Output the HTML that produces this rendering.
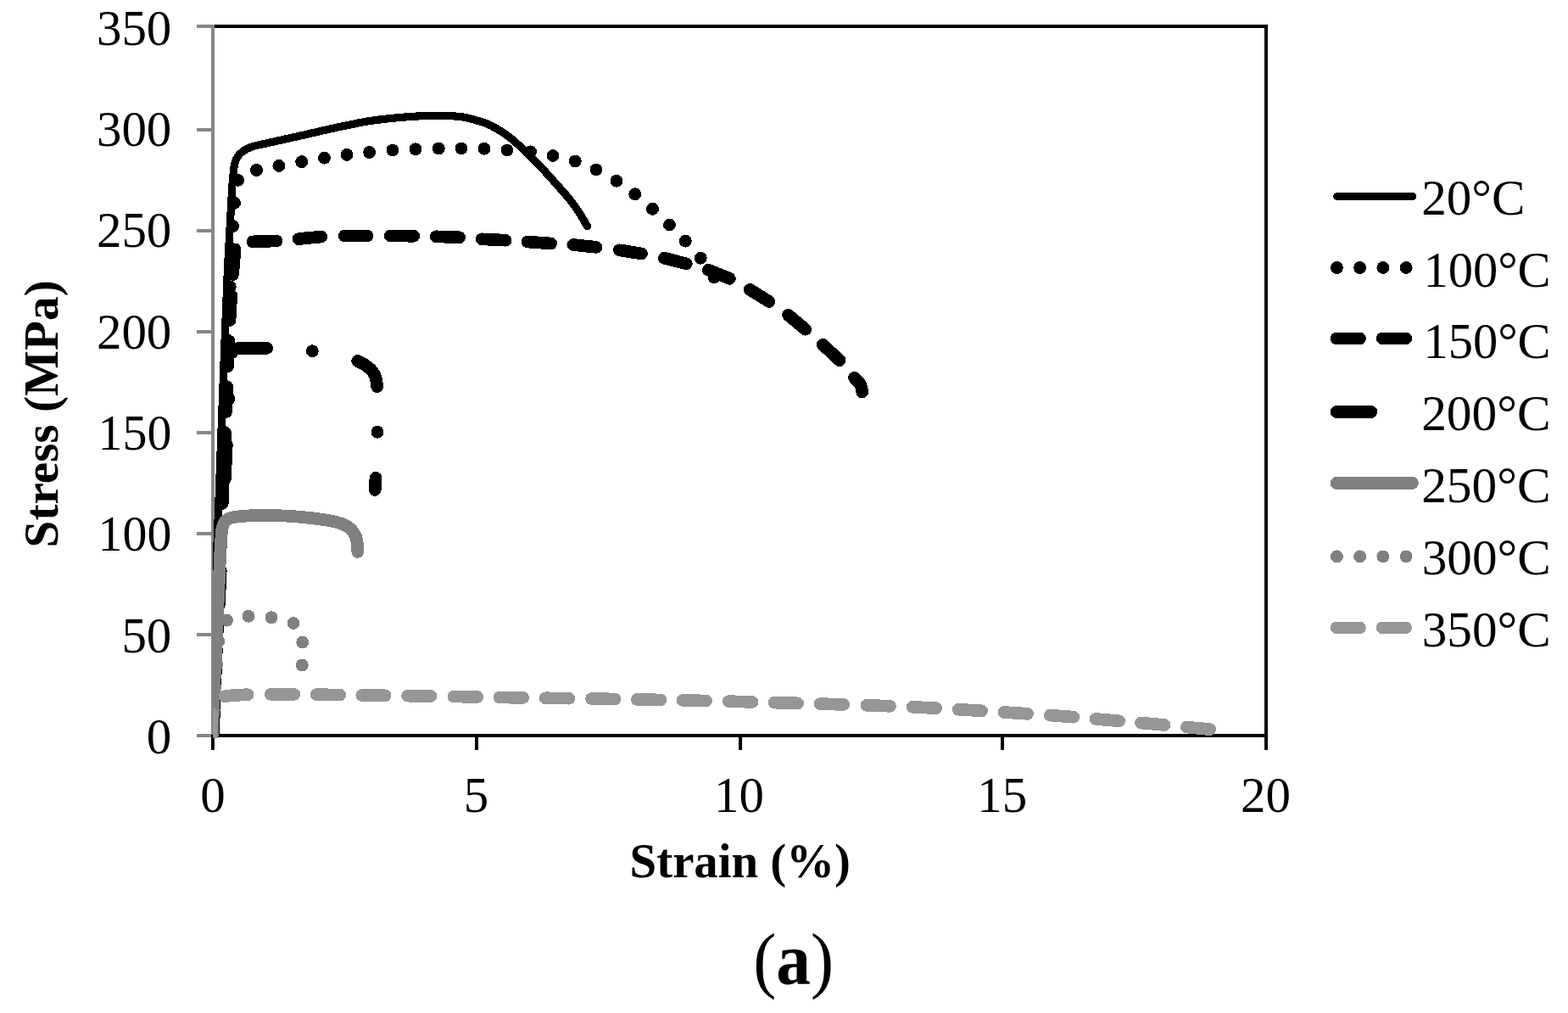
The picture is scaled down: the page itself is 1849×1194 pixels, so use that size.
<!DOCTYPE html>
<html lang="en"><head><meta charset="utf-8"><title>Stress-strain curves (a)</title>
<style>
html,body{margin:0;padding:0;background:#fff;}
body{width:1849px;height:1194px;overflow:hidden;}
svg{display:block;}
text{font-family:"Liberation Serif","DejaVu Serif",serif;font-size:60px;fill:#000;}
.b{font-weight:bold;}
.k{stroke:#000;} .g1{stroke:#808080;} .g2{stroke:#969696;}
.s{fill:none;stroke-linecap:round;stroke-linejoin:round;}
</style></head><body>
<svg width="1849" height="1194" viewBox="0 0 1849 1194">
<rect width="1849" height="1194" fill="#fff"/>
<g id="axes" shape-rendering="crispEdges">
<rect x="249" y="29" width="4" height="840" fill="#868686"/>
<rect x="232" y="29" width="19" height="4" fill="#868686"/>
<rect x="232" y="151" width="19" height="4" fill="#868686"/>
<rect x="232" y="270" width="19" height="4" fill="#868686"/>
<rect x="232" y="389" width="19" height="4" fill="#868686"/>
<rect x="232" y="508" width="19" height="4" fill="#868686"/>
<rect x="232" y="627" width="19" height="4" fill="#868686"/>
<rect x="232" y="746" width="19" height="4" fill="#868686"/>
<rect x="232" y="865" width="19" height="4" fill="#868686"/>
<rect x="253" y="29" width="1242" height="4" fill="#000"/>
<rect x="1491" y="29" width="4" height="855" fill="#000"/>
<rect x="251" y="865" width="1244" height="4" fill="#000"/>
<rect x="249" y="866" width="4" height="18" fill="#000"/>
<rect x="560" y="866" width="4" height="18" fill="#000"/>
<rect x="871" y="866" width="4" height="18" fill="#000"/>
<rect x="1180" y="866" width="4" height="18" fill="#000"/>
</g>
<defs><clipPath id="pa"><rect x="251" y="0" width="1400" height="869.6"/></clipPath></defs>
<g id="series" clip-path="url(#pa)" shape-rendering="crispEdges">
<path class="s k" stroke-width="9.2" d="M247.5 867C249.25 820.67 255.35 659.5 258 589C260.65 518.5 261.77 486.83 263.4 444C265.03 401.17 266.53 361 267.8 332C269.07 303 270.05 287.83 271 270C271.95 252.17 272.78 236.17 273.5 225C274.22 213.83 274.7 208.57 275.3 203C275.9 197.43 276.22 194.75 277.1 191.6C277.98 188.45 279.03 186.32 280.6 184.1C282.17 181.88 284.35 179.92 286.5 178.3C288.65 176.68 290.98 175.5 293.5 174.4C296.02 173.3 296.68 172.93 301.6 171.7C306.52 170.47 315.78 168.6 323 167C330.22 165.4 337.65 163.73 344.9 162.1C352.15 160.47 359.28 158.85 366.5 157.2C373.72 155.55 380.95 153.8 388.2 152.2C395.45 150.6 402.8 149.08 410 147.6C417.2 146.12 424.18 144.52 431.4 143.3C438.62 142.08 445.2 141.22 453.3 140.3C461.4 139.38 472.22 138.42 480 137.8C487.78 137.18 493.33 136.87 500 136.6C506.67 136.33 512.5 135.98 520 136.2C527.5 136.42 537.52 136.82 545 137.9C552.48 138.98 559.78 141.27 564.9 142.7C570.02 144.13 572.1 144.92 575.7 146.5C579.3 148.08 582.88 150.08 586.5 152.2C590.12 154.32 593.78 156.58 597.4 159.2C601.02 161.82 602.8 163.03 608.2 167.9C613.6 172.77 622.6 181.1 629.8 188.4C637 195.7 644.2 203.67 651.4 211.7C658.6 219.73 667.65 229.97 673 236.6C678.35 243.23 680.25 246.48 683.5 251.5C686.75 256.52 691 264.17 692.5 266.7"/>
<g fill="#000"><circle cx="274.6" cy="266.5" r="7.45"/><circle cx="276.5" cy="239.3" r="7.45"/><circle cx="280.5" cy="212.4" r="7.45"/><circle cx="271.3" cy="338" r="7.45"/><circle cx="302.5" cy="200.5" r="7.45"/><circle cx="328.9" cy="195.4" r="7.45"/><circle cx="355.7" cy="190.6" r="7.45"/><circle cx="382.5" cy="186.2" r="7.45"/><circle cx="409" cy="182.4" r="7.45"/><circle cx="435.6" cy="179.5" r="7.45"/><circle cx="463" cy="177" r="7.45"/><circle cx="490" cy="175.8" r="7.45"/><circle cx="517.2" cy="175" r="7.45"/><circle cx="544" cy="175" r="7.45"/><circle cx="571" cy="175.3" r="7.45"/><circle cx="598" cy="177" r="7.45"/><circle cx="625.5" cy="178.8" r="7.45"/><circle cx="652" cy="183.5" r="7.45"/><circle cx="678.3" cy="190" r="7.45"/><circle cx="703" cy="200" r="7.45"/><circle cx="727" cy="213.3" r="7.45"/><circle cx="748.8" cy="228.8" r="7.45"/><circle cx="769.5" cy="246.3" r="7.45"/><circle cx="789.5" cy="265" r="7.45"/><circle cx="808.3" cy="284.1" r="7.45"/><circle cx="826.2" cy="304.2" r="7.45"/><circle cx="842" cy="327" r="7.45"/><circle cx="273.54" cy="293.5" r="7.45"/><circle cx="272.46" cy="320.5" r="7.45"/><circle cx="271.38" cy="347.5" r="7.45"/><circle cx="270.3" cy="374.5" r="7.45"/><circle cx="269.22" cy="401.5" r="7.45"/><circle cx="268.14" cy="428.5" r="7.45"/><circle cx="267.06" cy="455.5" r="7.45"/><circle cx="265.98" cy="482.5" r="7.45"/><circle cx="264.9" cy="509.5" r="7.45"/><circle cx="263.82" cy="536.5" r="7.45"/><circle cx="262.74" cy="563.5" r="7.45"/><circle cx="261.66" cy="590.5" r="7.45"/><circle cx="260.58" cy="617.5" r="7.45"/><circle cx="259.5" cy="644.5" r="7.45"/><circle cx="258.42" cy="671.5" r="7.45"/><circle cx="257.34" cy="698.5" r="7.45"/><circle cx="256.26" cy="725.5" r="7.45"/><circle cx="255.18" cy="752.5" r="7.45"/><circle cx="254.1" cy="779.5" r="7.45"/><circle cx="253.02" cy="806.5" r="7.45"/><circle cx="251.94" cy="833.5" r="7.45"/><circle cx="250.86" cy="860.5" r="7.45"/></g>
<path class="s k" stroke-width="14.7" d="M298 284.9L326 283.9M352 281.6L378.8 279M406.2 278L433 278M460.3 278L487.7 278.2M514.2 278.8L541.6 279.8M568.2 281.8L596 283.2M622 285L649.7 287M675.8 288.5L703 291.3M730.3 294.8L756.6 299M783.3 304.2L809.2 310.8M835.3 318.3L860.3 328.3M884.2 341.3L906.9 355.4M929.5 371.3L949.7 388.2M970.3 406.3L990 424.7M1007.5 445.3C1008.67 446.58 1012.97 450.22 1014.5 453C1016.03 455.78 1016.33 460.5 1016.7 462M277.12 294L274.55 323.5M272.76 348L271.01 377.5M269.9 402L268.72 431.5M267.74 456L266.56 485.5M265.58 510L264.4 539.5M263.42 564L262.24 593.5M261.26 618L260.08 647.5M259.1 672L257.92 701.5M256.94 726L255.76 755.5M254.78 780L253.6 809.5M252.62 834L251.44 863.5"/>
<path class="s k" stroke-width="14.7" d="M273.2 416C273.58 415.43 274.37 413.47 275.5 412.6C276.63 411.73 277.58 411.2 280 410.8C282.42 410.4 284.23 410.27 290 410.2C295.77 410.13 310.5 410.37 314.6 410.4M421.7 425.5C423 426.18 427 428.02 429.5 429.6C432 431.18 434.78 433.18 436.7 435C438.62 436.82 439.9 438.55 441 440.5C442.1 442.45 442.68 444.2 443.3 446.7C443.92 449.2 444.47 454.03 444.7 455.5M443 563.3L442.2 577.5M267.29 524L265.37 564.5M260.24 672.5L258.31 713M253.19 821L251.26 861.5"/>
<g fill="#000"><circle cx="368.3" cy="413.8" r="7.45"/><circle cx="445" cy="509.2" r="7.45"/><circle cx="269.86" cy="470" r="7.45"/><circle cx="262.8" cy="618.5" r="7.45"/><circle cx="255.75" cy="767" r="7.45"/></g>
<path class="s g1" stroke-width="14.7" d="M250.1 869C250.92 850.67 253.45 793.83 255 759C256.55 724.17 258.4 681.17 259.4 660C260.4 638.83 260.57 638.17 261 632C261.43 625.83 261.55 625.42 262 623C262.45 620.58 262.87 619.17 263.7 617.5C264.53 615.83 265.62 614.17 267 613C268.38 611.83 270.12 611.13 272 610.5C273.88 609.87 274.47 609.65 278.3 609.2C282.13 608.75 288.05 608.08 295 607.8C301.95 607.52 310.28 607.27 320 607.5C329.72 607.73 342.18 608.23 353.3 609.2C364.42 610.17 378.37 611.92 386.7 613.3C395.03 614.68 398.87 615.83 403.3 617.5C407.73 619.17 410.65 620.93 413.3 623.3C415.95 625.67 417.88 628.92 419.2 631.7C420.52 634.48 420.78 636.87 421.2 640C421.62 643.13 421.62 648.75 421.7 650.5"/>
<g fill="#808080"><circle cx="267.5" cy="731.2" r="7.45"/><circle cx="293" cy="726.3" r="7.45"/><circle cx="320" cy="727.8" r="7.45"/><circle cx="346" cy="734.5" r="7.45"/><circle cx="356.7" cy="757" r="7.45"/><circle cx="356.2" cy="784" r="7.45"/><circle cx="257.8" cy="755.8" r="7.45"/><circle cx="255.8" cy="783" r="7.45"/><circle cx="253.8" cy="810" r="7.45"/><circle cx="252.3" cy="837" r="7.45"/><circle cx="251" cy="864" r="7.45"/></g>
<path class="s g2" stroke-width="14.7" d="M248.7 873L249.5 841.2M265.2 820.7C266.83 820.52 270.53 819.93 275 819.6C279.47 819.27 289.17 818.85 292 818.7M319.3 818.42L346.8 818.43M373.3 818.68L400.8 819.05M426.7 819.48L454.2 819.86M480.6 820.15L508.1 820.53M535.1 820.99L562.6 821.47M589.1 821.96L616.6 822.41M643.3 822.8L670.8 823.18M697.5 823.53L725 823.96M751.3 824.45L778.8 824.96M805.1 825.44L832.6 826.03M859.4 826.67L886.9 827.39M913.1 828.11L940.6 828.88M967.1 829.61L994.6 830.43M1021.9 831.29L1049.4 832.28M1076.1 833.34L1103.6 834.68M1130.1 836.2L1157.6 837.86M1184.1 839.52L1211.6 841.31M1238.3 843.09L1265.8 845.19M1292.1 847.45L1319.6 849.81M1345.6 852.05L1373.1 854.53M1399.3 857.01L1426.8 859.68"/>
</g>
<g id="legend" shape-rendering="crispEdges">
<path class="s k" stroke-width="9.2" d="M1576.8 231.6H1665.6"/>
<g fill="#000"><circle cx="1576.4" cy="315.5" r="7.45"/><circle cx="1603.63" cy="315.5" r="7.45"/><circle cx="1630.86" cy="315.5" r="7.45"/><circle cx="1658.09" cy="315.5" r="7.45"/></g>
<path class="s k" stroke-width="14.7" d="M1576 398.9H1603.5M1630.2 398.9H1657.7"/>
<path class="s k" stroke-width="14.9" d="M1576.1 485.5H1616.7"/>
<path class="s g1" stroke-width="14.9" d="M1576.1 569.4H1665.4"/>
<g fill="#808080"><circle cx="1576.4" cy="655.9" r="7.45"/><circle cx="1603.63" cy="655.9" r="7.45"/><circle cx="1630.86" cy="655.9" r="7.45"/><circle cx="1658.09" cy="655.9" r="7.45"/></g>
<path class="s g2" stroke-width="14.5" d="M1576 739.8H1603.5M1630.2 739.8H1657.7"/>
</g>
<g id="labels">
<text transform="matrix(0.9829 0 0 0.9814 113.90 52.71)">350</text>
<text transform="matrix(0.9829 0 0 0.9814 113.90 172.01)">300</text>
<text transform="matrix(0.9829 0 0 0.9814 113.90 291.31)">250</text>
<text transform="matrix(0.9829 0 0 0.9814 113.90 410.61)">200</text>
<text transform="matrix(0.9642 0 0 0.9814 115.54 529.91)">150</text>
<text transform="matrix(0.9642 0 0 0.9814 115.54 649.21)">100</text>
<text transform="matrix(0.9829 0 0 0.9814 143.39 768.51)">50</text>
<text transform="matrix(0.9829 0 0 0.9814 172.87 887.81)">0</text>
<text transform="matrix(0.9829 0 0 0.9814 236.26 957.11)">0</text>
<text transform="matrix(0.9829 0 0 0.9814 546.64 957.11)">5</text>
<text transform="matrix(0.9829 0 0 0.9814 842.04 957.11)">10</text>
<text transform="matrix(0.9829 0 0 0.9814 1152.24 957.11)">15</text>
<text transform="matrix(0.9829 0 0 0.9814 1462.97 957.11)">20</text>
<text transform="matrix(0.9856 0 0 0.9963 1676.19 253.20)">20°C</text>
<text transform="matrix(0.9746 0 0 0.9963 1678.48 338.20)">100°C</text>
<text transform="matrix(0.9746 0 0 0.9963 1678.48 422.10)">150°C</text>
<text transform="matrix(0.9899 0 0 0.9963 1676.18 507.10)">200°C</text>
<text transform="matrix(0.9899 0 0 0.9963 1676.18 592.10)">250°C</text>
<text transform="matrix(0.9861 0 0 0.9963 1676.74 677.10)">300°C</text>
<text transform="matrix(0.9861 0 0 0.9963 1676.74 762.10)">350°C</text>
<text class="b" transform="matrix(0.9472 0 0 0.9401 742.62 1033.91)">Strain (%)</text>
<text class="b" transform="translate(67.81 645.40) rotate(-90) scale(0.9538 0.9401)">Stress (MPa)</text>
<text transform="matrix(1.3566 0 0 1.4378 888.17 1159.67)">(<tspan class="b">a</tspan>)</text>
</g>
</svg>
</body></html>
